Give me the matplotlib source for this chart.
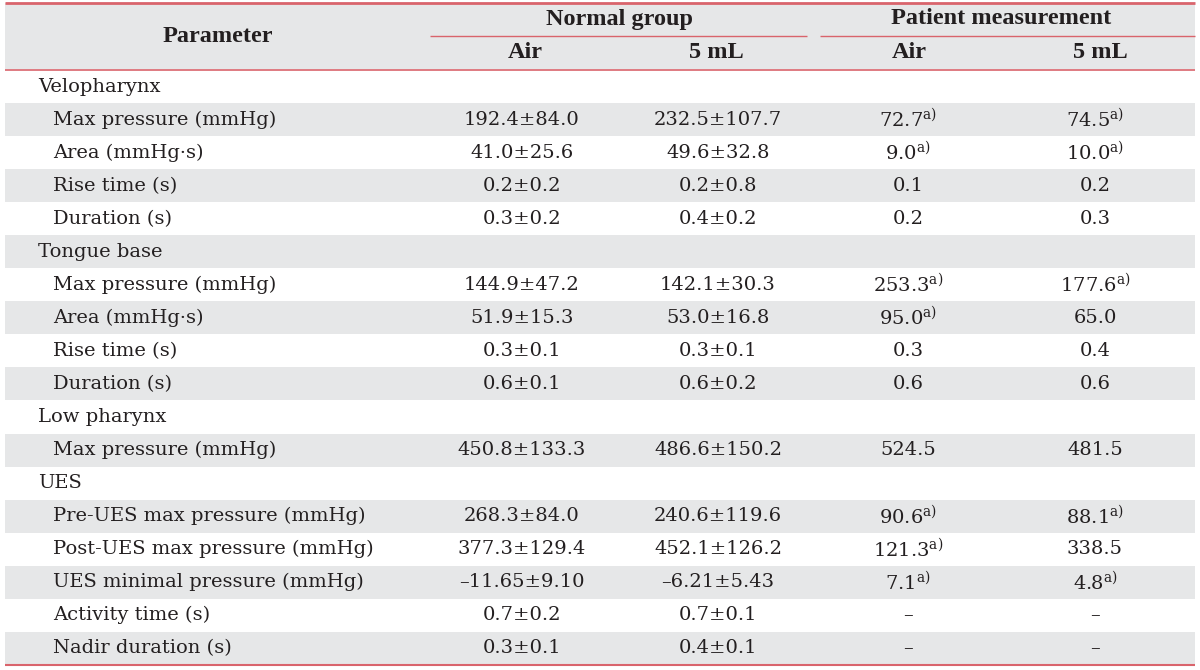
import matplotlib
matplotlib.use("Agg")
import matplotlib.pyplot as plt

# table content
params = ["Velopharynx", "Max pressure (mmHg)", "Area (mmHg·s)", "Rise time (s)", "Duration (s)",
          "Tongue base", "Max pressure (mmHg)", "Area (mmHg·s)", "Rise time (s)", "Duration (s)",
          "Low pharynx", "Max pressure (mmHg)",
          "UES", "Pre-UES max pressure (mmHg)", "Post-UES max pressure (mmHg)",
          "UES minimal pressure (mmHg)", "Activity time (s)", "Nadir duration (s)"]
is_section = [1, 0, 0, 0, 0, 1, 0, 0, 0, 0, 1, 0, 1, 0, 0, 0, 0, 0]

normal_air = ["", "192.4±84.0", "41.0±25.6", "0.2±0.2", "0.3±0.2",
              "", "144.9±47.2", "51.9±15.3", "0.3±0.1", "0.6±0.1",
              "", "450.8±133.3",
              "", "268.3±84.0", "377.3±129.4", "–11.65±9.10", "0.7±0.2", "0.3±0.1"]
normal_5ml = ["", "232.5±107.7", "49.6±32.8", "0.2±0.8", "0.4±0.2",
              "", "142.1±30.3", "53.0±16.8", "0.3±0.1", "0.6±0.2",
              "", "486.6±150.2",
              "", "240.6±119.6", "452.1±126.2", "–6.21±5.43", "0.7±0.1", "0.4±0.1"]
patient_air = ["", "72.7", "9.0", "0.1", "0.2",
               "", "253.3", "95.0", "0.3", "0.6",
               "", "524.5",
               "", "90.6", "121.3", "7.1", "–", "–"]
patient_air_sig = [0, 1, 1, 0, 0, 0, 1, 1, 0, 0, 0, 0, 0, 1, 1, 1, 0, 0]
patient_5ml = ["", "74.5", "10.0", "0.2", "0.3",
               "", "177.6", "65.0", "0.4", "0.6",
               "", "481.5",
               "", "88.1", "338.5", "4.8", "–", "–"]
patient_5ml_sig = [0, 1, 1, 0, 0, 0, 1, 0, 0, 0, 0, 0, 0, 1, 0, 1, 0, 0]

groups = ["Normal group", "Patient measurement"]
subheads = ["Air", "5 mL", "Air", "5 mL"]

plt.rcParams["mathtext.fontset"] = "dejavuserif"
body_font = "DejaVu Serif"
head_font = "Liberation Serif"
txt = "#231f20"
red = "#d9646c"
grey = "#e6e7e8"

fig = plt.figure(figsize=(12, 6.7), dpi=100)
ax = fig.add_axes([0, 0, 1, 1])
ax.set_xlim(0, 1200)
ax.set_ylim(670, 0)
ax.axis("off")

top = 70
rh = 33.05
n = len(params)
ys = [top + rh * (i + 0.5) for i in range(n)]

# header background + striped rows
ax.barh(36, 1190, height=66, left=5, color=grey, zorder=0)
stripe_y = [ys[i] for i in range(n) if i % 2 == 1]
ax.barh(stripe_y, 1190, height=rh, left=5, color=grey, zorder=0)

ax.hlines(3, 5, 1195, color=red, lw=2)
ax.hlines(69.5, 5, 1195, color=red, lw=1.2)
ax.hlines(top + rh * n, 5, 1195, color=red, lw=1.5)
ax.hlines(36, 430, 807, color=red, lw=1.0)
ax.hlines(36, 820, 1195, color=red, lw=1.0)

# header text
hfs = 17.5
ax.text(218, 37, "Parameter", ha="center", va="center", fontsize=hfs,
        fontweight="bold", family=head_font, color=txt)
for gx, g in zip([620, 1001], groups):
    ax.text(gx, 19, g, ha="center", va="center", fontsize=hfs,
            fontweight="bold", family=head_font, color=txt)
for sx, s in zip([525, 716, 909, 1100], subheads):
    ax.text(sx, 53, s, ha="center", va="center", fontsize=hfs,
            fontweight="bold", family=head_font, color=txt)

fs = 14
for i, y in enumerate(ys):
    x0 = 38 if is_section[i] else 53
    ax.text(x0, y, params[i], ha="left", va="center", fontsize=fs,
            family=body_font, color=txt)
    ax.text(522, y, normal_air[i], ha="center", va="center", fontsize=fs,
            family=body_font, color=txt)
    ax.text(718, y, normal_5ml[i], ha="center", va="center", fontsize=fs,
            family=body_font, color=txt)
    for cx, vals, sig in [(908, patient_air, patient_air_sig),
                          (1095, patient_5ml, patient_5ml_sig)]:
        s = vals[i]
        if not s:
            continue
        if sig[i]:
            s = s + r"$^{\mathrm{a)}}$"
        ax.text(cx, y, s, ha="center", va="center", fontsize=fs,
                family=body_font, color=txt)

fig.savefig("out.png", dpi=100)
